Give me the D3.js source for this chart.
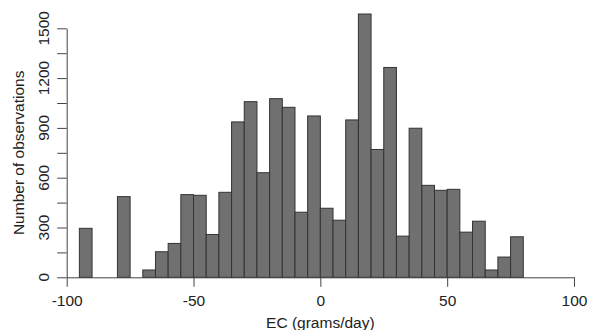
<!DOCTYPE html>
<html>
<head>
<meta charset="utf-8">
<script src="https://cdn.jsdelivr.net/npm/d3@7"></script>
<style>
  body { margin: 0; background: #fff; }
  text { font-family: "Liberation Sans", Arial, sans-serif; fill: #222; }
</style>
</head>
<body>
<div id="chart"></div>
<script>
// histogram bins (left edge), width 5 g/day
let binStarts = [-95, -90, -85, -80, -75, -70, -65, -60, -55, -50, -45, -40, -35, -30, -25,
  -20, -15, -10, -5, 0, 5, 10, 15, 20, 25, 30, 35, 40, 45, 50, 55, 60, 65, 70, 75];
let counts = [295, 0, 0, 486, 0, 44, 154, 204, 498, 494, 258, 512, 936, 1058, 630,
  1076, 1024, 392, 972, 416, 344, 948, 1586, 770, 1264, 248, 898, 554, 524, 530, 272, 338, 44, 122, 244];
let binWidth = 5;
let xTicks = [-100, -50, 0, 50, 100];
let yTicks = [0, 150, 300, 450, 600, 750, 900, 1050, 1200, 1350, 1500];
let yLabels = [0, 300, 600, 900, 1200, 1500];

let W = 589, H = 330;
let x = d3.scaleLinear().domain([-100, 100]).range([66.7, 574]);
let y = d3.scaleLinear().domain([0, 1500]).range([277.3, 28.3]);

let svg = d3.select('#chart').append('svg').attr('width', W).attr('height', H);

let data = binStarts.map((b, i) => ({ x0: b, n: counts[i] })).filter((d) => d.n > 0);

svg.append('g')
  .selectAll('rect')
  .data(data)
  .enter()
  .append('rect')
  .attr('x', (d) => x(d.x0))
  .attr('y', (d) => y(d.n))
  .attr('width', (d) => x(d.x0 + binWidth) - x(d.x0))
  .attr('height', (d) => y(0) - y(d.n))
  .attr('fill', '#707070')
  .attr('stroke', '#333')
  .attr('stroke-width', 1);

let xAxis = svg.append('g')
  .attr('transform', `translate(0, ${y(0)})`)
  .call(d3.axisBottom(x).tickValues(xTicks).tickSize(9.5).tickSizeOuter(0)
    .tickFormat((d) => String(d)));
xAxis.selectAll('text').attr('dy', 0).attr('y', 29).style('font-size', '15.5px').attr('fill', '#222');

let yAxis = svg.append('g')
  .attr('transform', `translate(${x(-100)}, 0)`)
  .call(d3.axisLeft(y).tickValues(yTicks).tickSize(9.5).tickSizeOuter(0)
    .tickFormat((d) => (yLabels.includes(d) ? String(d) : '')));
yAxis.selectAll('text')
  .attr('x', 0).attr('y', 0).attr('dy', 0)
  .attr('text-anchor', 'middle')
  .attr('transform', (d) => `translate(-18, ${y(d)}) rotate(-90)`)
  .style('font-size', '15.5px').attr('fill', '#222');
yAxis.selectAll('.tick').attr('transform', 'translate(0,0)');
yAxis.selectAll('.tick line').attr('y1', (d) => y(d) + 0.5).attr('y2', (d) => y(d) + 0.5);

svg.selectAll('.domain').attr('stroke', '#444');
svg.selectAll('.tick line').attr('stroke', '#444');

svg.append('text')
  .attr('x', x(0))
  .attr('y', 328)
  .attr('text-anchor', 'middle')
  .style('font-size', '15.5px')
  .text('EC (grams/day)');

svg.append('text')
  .attr('transform', `translate(24, ${y(750)}) rotate(-90)`)
  .attr('text-anchor', 'middle')
  .style('font-size', '15.5px')
  .text('Number of observations');
</script>
</body>
</html>
